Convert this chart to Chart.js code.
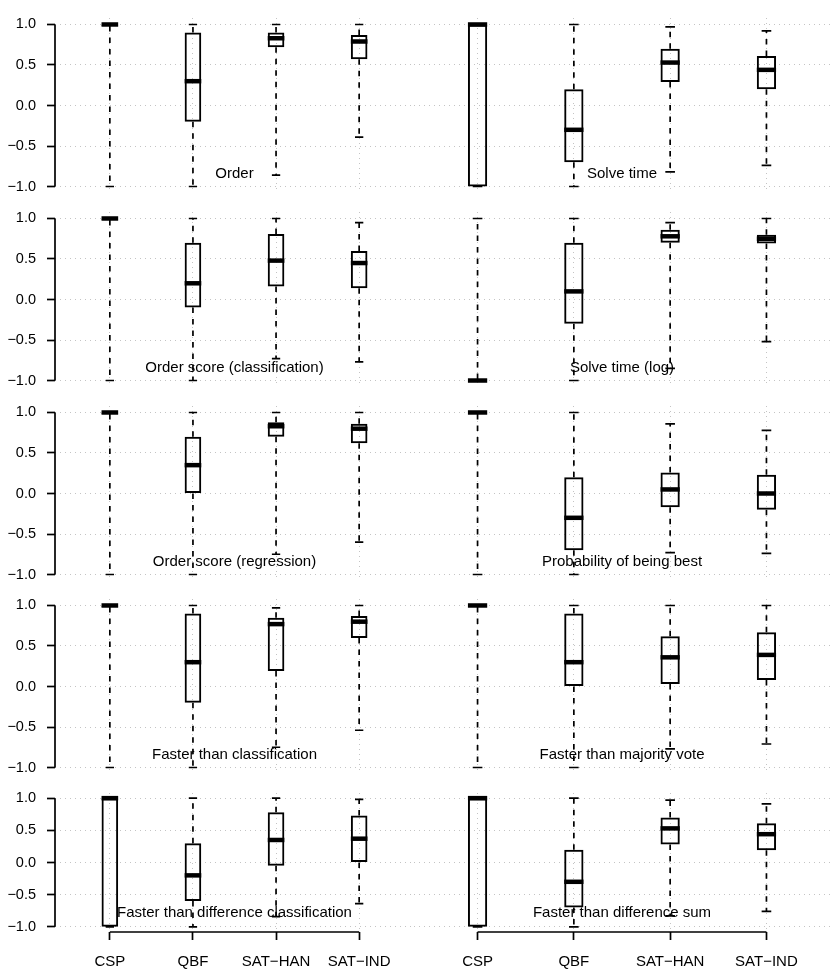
<!DOCTYPE html>
<html>
<head>
<meta charset="utf-8">
<script src="https://cdn.jsdelivr.net/npm/chart.js@4.4.1/dist/chart.umd.min.js"></script>
<style>
  html, body { margin: 0; padding: 0; background: #fff; }
  #wrap { position: relative; width: 830px; height: 969px; overflow: hidden; }
  #wrap canvas { position: absolute; }
</style>
</head>
<body>
<div id="wrap"></div>
<script>
const categories = ['CSP', 'QBF', 'SAT\u2212HAN', 'SAT\u2212IND'];
const yTickValues = [-1, -0.5, 0, 0.5, 1];
const yTickLabels = ['\u22121.0', '\u22120.5', '0.0', '0.5', '1.0'];

// five number summary per category: [min, q1, median, q3, max]
const order           = [[-1, 0.98, 1, 1, 1], [-1, -0.2, 0.3, 0.9, 1], [-0.86, 0.72, 0.83, 0.9, 1], [-0.39, 0.57, 0.79, 0.87, 1]];
const solveTime       = [[-1, -1, 1, 1, 1], [-1, -0.7, -0.3, 0.2, 1], [-0.82, 0.29, 0.53, 0.7, 0.97], [-0.74, 0.2, 0.44, 0.61, 0.92]];
const orderScoreClass = [[-1, 0.98, 1, 1, 1], [-1, -0.1, 0.2, 0.7, 1], [-0.73, 0.16, 0.48, 0.81, 1], [-0.77, 0.14, 0.45, 0.6, 0.95]];
const solveTimeLog    = [[-1, -1, -1, -0.98, 1], [-1, -0.3, 0.1, 0.7, 1], [-0.85, 0.7, 0.78, 0.86, 0.95], [-0.52, 0.69, 0.75, 0.8, 1]];
const orderScoreReg   = [[-1, 0.98, 1, 1, 1], [-1, 0, 0.35, 0.7, 1], [-0.75, 0.7, 0.83, 0.88, 1], [-0.6, 0.62, 0.8, 0.86, 1]];
const probBest        = [[-1, 0.98, 1, 1, 1], [-1, -0.7, -0.3, 0.2, 1], [-0.73, -0.17, 0.05, 0.26, 0.86], [-0.74, -0.2, 0, 0.23, 0.78]];
const fasterClass     = [[-1, 0.98, 1, 1, 1], [-1, -0.2, 0.3, 0.9, 1], [-0.75, 0.19, 0.77, 0.85, 0.97], [-0.54, 0.6, 0.8, 0.87, 1]];
const fasterMajority  = [[-1, 0.98, 1, 1, 1], [-1, 0, 0.3, 0.9, 1], [-0.77, 0.03, 0.36, 0.62, 1], [-0.71, 0.08, 0.39, 0.67, 1]];
const fasterDiffClass = [[-1, -1, 1, 1, 1], [-1, -0.6, -0.2, 0.3, 1], [-0.84, -0.05, 0.35, 0.78, 1], [-0.64, 0, 0.37, 0.73, 0.98]];
const fasterDiffSum   = [[-1, -1, 1, 1, 1], [-1, -0.7, -0.3, 0.2, 1], [-0.83, 0.28, 0.53, 0.7, 0.97], [-0.76, 0.19, 0.44, 0.61, 0.91]];

const leftStats = [order, orderScoreClass, orderScoreReg, fasterClass, fasterDiffClass];
const rightStats = [solveTime, solveTimeLog, probBest, fasterMajority, fasterDiffSum];
const leftTitles = ['Order', 'Order score (classification)', 'Order score (regression)', 'Faster than classification', 'Faster than difference classification'];
const rightTitles = ['Solve time', 'Solve time (log)', 'Probability of being best', 'Faster than majority vote', 'Faster than difference sum'];

Chart.defaults.font.family = '"Liberation Sans", Arial, sans-serif';
Chart.defaults.color = '#000';

const rowTops = [18, 212, 406, 599, 793];
const plotH = [175, 175, 175, 175, 139];
const padTop = 10;
const gridColor = '#c4c4c4';

// whiskers, staples, medians, axis lines and panel title
const boxExtras = {
  id: 'boxExtras',
  afterDatasetsDraw(chart, args, opts) {
    const ctx = chart.ctx;
    const xs = chart.scales.x, ys = chart.scales.y;
    const area = chart.chartArea;
    const meta = chart.getDatasetMeta(0);
    ctx.save();
    ctx.strokeStyle = '#000';
    ctx.lineCap = 'butt';
    opts.stats.forEach((s, i) => {
      const bar = meta.data[i];
      const cx = bar.x, w = bar.width;
      ctx.lineWidth = 1.7;
      ctx.setLineDash([5.5, 6]);
      ctx.beginPath();
      if (s[3] < s[4]) { ctx.moveTo(cx, ys.getPixelForValue(s[3])); ctx.lineTo(cx, ys.getPixelForValue(s[4])); }
      if (s[0] < s[1]) { ctx.moveTo(cx, ys.getPixelForValue(s[1])); ctx.lineTo(cx, ys.getPixelForValue(s[0])); }
      ctx.stroke();
      ctx.setLineDash([]);
      ctx.beginPath();
      [s[0], s[4]].forEach(v => {
        const py = ys.getPixelForValue(v);
        ctx.moveTo(cx - w / 4, py);
        ctx.lineTo(cx + w / 4, py);
      });
      ctx.stroke();
      ctx.lineWidth = 4.5;
      ctx.beginPath();
      const pm = ys.getPixelForValue(s[2]);
      ctx.moveTo(cx - w / 2, pm);
      ctx.lineTo(cx + w / 2, pm);
      ctx.stroke();
    });
    ctx.lineWidth = 1.7;
    if (opts.yAxis) {
      ctx.beginPath();
      ctx.moveTo(area.left, ys.getPixelForValue(1));
      ctx.lineTo(area.left, ys.getPixelForValue(-1));
      ctx.stroke();
    }
    if (opts.xAxis) {
      ctx.beginPath();
      ctx.moveTo(xs.getPixelForValue(1), area.bottom);
      ctx.lineTo(xs.getPixelForValue(categories.length), area.bottom);
      ctx.stroke();
    }
    ctx.fillStyle = '#000';
    ctx.font = '15px "Liberation Sans", Arial, sans-serif';
    ctx.textAlign = 'center';
    ctx.textBaseline = 'middle';
    ctx.fillText(opts.title, (area.left + area.right) / 2, area.bottom - 19.5);
    ctx.restore();
  }
};

const wrap = document.getElementById('wrap');

function makePanel(stats, title, row, isLeft) {
  const last = row === rowTops.length - 1;
  const canvas = document.createElement('canvas');
  const cw = isLeft ? 414 : 416;
  const ch = (last ? 969 - rowTops[row] : plotH[row]) + padTop;
  const yAxisW = isLeft ? 55 : 0;
  const xAxisH = last ? 969 - rowTops[row] - plotH[row] : 0;
  canvas.width = cw;
  canvas.height = ch;
  canvas.style.left = (isLeft ? 0 : 414) + 'px';
  canvas.style.top = (rowTops[row] - padTop) + 'px';
  wrap.appendChild(canvas);

  new Chart(canvas, {
    type: 'bar',
    data: {
      datasets: [{
        data: stats.map((s, i) => ({ x: i + 1, y: [s[1], s[3]] })),
        backgroundColor: 'rgba(0,0,0,0)',
        borderColor: '#000',
        borderWidth: 2,
        borderSkipped: false,
        barPercentage: 0.2,
        categoryPercentage: 1
      }]
    },
    options: {
      responsive: false,
      devicePixelRatio: 1,
      animation: false,
      layout: { padding: { top: padTop, left: 0, right: 0, bottom: 0 } },
      plugins: {
        legend: { display: false },
        tooltip: { enabled: false },
        boxExtras: { stats: stats, title: title, yAxis: isLeft, xAxis: last }
      },
      scales: {
        x: {
          type: 'linear',
          min: 0.34,
          max: 4.66,
          offset: false,
          z: 1,
          afterBuildTicks: axis => { axis.ticks = categories.map((c, i) => ({ value: i + 1 })); },
          afterFit: axis => { axis.height = xAxisH; axis.paddingLeft = 0; axis.paddingRight = 0; },
          grid: {
            offset: false,
            color: gridColor,
            lineWidth: 1,
            drawTicks: last,
            tickLength: 8,
            tickColor: '#000',
            tickWidth: 1.7,
            tickBorderDash: []
          },
          border: { display: false, dash: [1, 4] },
          ticks: {
            display: last,
            autoSkip: false,
            maxRotation: 0,
            padding: 13,
            font: { size: 15 },
            callback: v => categories[v - 1]
          }
        },
        y: {
          min: -1.08,
          max: 1.08,
          z: 1,
          afterBuildTicks: axis => { axis.ticks = yTickValues.map(v => ({ value: v })); },
          afterFit: axis => { axis.width = yAxisW; axis.paddingTop = 0; axis.paddingBottom = 0; },
          grid: {
            color: gridColor,
            lineWidth: 1,
            drawTicks: isLeft,
            tickLength: 8,
            tickColor: '#000',
            tickWidth: 1.7,
            tickBorderDash: []
          },
          border: { display: false, dash: [1, 4] },
          ticks: {
            display: isLeft,
            padding: 11,
            font: { size: 14.5 },
            callback: v => yTickLabels[yTickValues.indexOf(v)]
          }
        }
      }
    },
    plugins: [boxExtras]
  });
}

leftStats.forEach((s, r) => makePanel(s, leftTitles[r], r, true));
rightStats.forEach((s, r) => makePanel(s, rightTitles[r], r, false));
</script>
</body>
</html>
